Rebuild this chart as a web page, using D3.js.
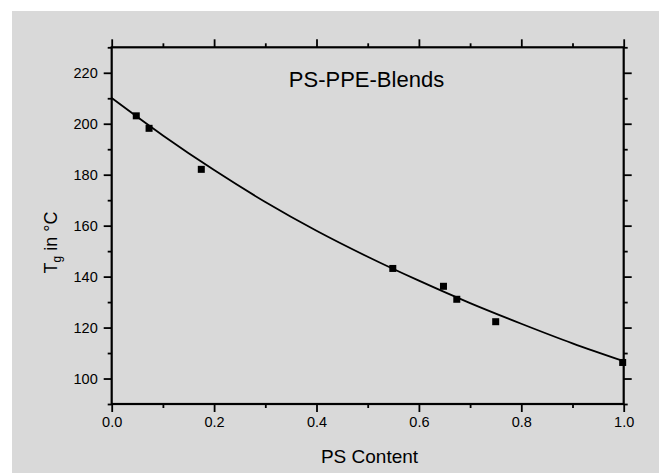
<!DOCTYPE html>
<html>
<head>
<meta charset="utf-8">
<script src="https://cdn.jsdelivr.net/npm/d3@7"></script>
<style>
  html, body { margin: 0; padding: 0; background: #ffffff; }
  svg { display: block; }
  text { font-family: "Liberation Sans", Arial, Helvetica, sans-serif; fill: #000; }
</style>
</head>
<body>
<svg id="chart" width="665" height="473"></svg>
<script>
// ---- data ----
const psContent = [0.048, 0.073, 0.175, 0.549, 0.648, 0.674, 0.750, 0.998];
const tgValues  = [203.1, 198.2, 182.1, 143.2, 136.2, 131.1, 122.3, 106.3];

// fitted curve
const fitX = [0.0, 0.1, 0.2, 0.3, 0.4, 0.5, 0.6, 0.7, 0.8, 0.9, 1.0];
const fitY = [210.1, 195.4, 181.8, 169.3, 158.0, 147.8, 138.4, 129.6, 121.5, 113.8, 106.8];

const xMajorTicks = [0.0, 0.2, 0.4, 0.6, 0.8, 1.0];
const xMinorTicks = [0.1, 0.3, 0.5, 0.7, 0.9];
const yMajorTicks = [100, 120, 140, 160, 180, 200, 220];
const yMinorTicks = [90, 110, 130, 150, 170, 190, 210, 230];

const titleText = "PS-PPE-Blends";
const xTitle = "PS Content";

// ---- layout ----
const svg = d3.select("#chart");
const L = 111.7, R = 623.7, T = 47.3, B = 404;

const x = d3.scaleLinear().domain([0, 1]).range([L, R]);
const y = d3.scaleLinear().domain([90, 230]).range([B, T]);

// background panel
svg.append("rect").attr("x", 12).attr("y", 11).attr("width", 647).attr("height", 462)
  .attr("fill", "#d9d9d9");

const fmtX = d3.format(".1f");

function styleAxis(g) {
  g.select(".domain").remove();
  g.selectAll(".tick line").attr("stroke", "#000").attr("stroke-width", 1.8);
  g.selectAll(".tick text").attr("font-size", "14.5px").attr("fill", "#000")
    .attr("font-family", "\"Liberation Sans\", Arial, sans-serif");
}

// bottom axis
svg.append("g").attr("transform", `translate(0,${B})`)
  .call(d3.axisBottom(x).tickValues(xMajorTicks).tickFormat(fmtX).tickSize(8).tickPadding(5))
  .call(styleAxis);
svg.append("g").attr("transform", `translate(0,${B})`)
  .call(d3.axisBottom(x).tickValues(xMinorTicks).tickFormat("").tickSize(4))
  .call(styleAxis);
// top axis
svg.append("g").attr("transform", `translate(0,${T})`)
  .call(d3.axisTop(x).tickValues(xMajorTicks).tickFormat("").tickSize(8))
  .call(styleAxis);
svg.append("g").attr("transform", `translate(0,${T})`)
  .call(d3.axisTop(x).tickValues(xMinorTicks).tickFormat("").tickSize(4))
  .call(styleAxis);
// left axis
svg.append("g").attr("transform", `translate(${L},0)`)
  .call(d3.axisLeft(y).tickValues(yMajorTicks).tickFormat(d3.format("d")).tickSize(8).tickPadding(6))
  .call(styleAxis);
svg.append("g").attr("transform", `translate(${L},0)`)
  .call(d3.axisLeft(y).tickValues(yMinorTicks).tickFormat("").tickSize(4))
  .call(styleAxis);
// right axis
svg.append("g").attr("transform", `translate(${R},0)`)
  .call(d3.axisRight(y).tickValues(yMajorTicks).tickFormat("").tickSize(8))
  .call(styleAxis);
svg.append("g").attr("transform", `translate(${R},0)`)
  .call(d3.axisRight(y).tickValues(yMinorTicks).tickFormat("").tickSize(4))
  .call(styleAxis);

// frame
svg.append("rect").attr("x", L).attr("y", T).attr("width", R - L).attr("height", B - T)
  .attr("fill", "none").attr("stroke", "#000").attr("stroke-width", 2.2);

// fitted curve
const line = d3.line().x((d, i) => x(fitX[i])).y(d => y(d)).curve(d3.curveMonotoneX);
svg.append("path").attr("d", line(fitY))
  .attr("fill", "none").attr("stroke", "#000").attr("stroke-width", 1.8);

// data points
const sz = 7;
svg.append("g").selectAll("rect").data(tgValues).join("rect")
  .attr("x", (d, i) => x(psContent[i]) - sz / 2)
  .attr("y", d => y(d) - sz / 2)
  .attr("width", sz).attr("height", sz)
  .attr("fill", "#000");

// title
svg.append("text").attr("x", 366.5).attr("y", 86.5).attr("text-anchor", "middle")
  .attr("font-size", "22px").text(titleText);

// x axis title
svg.append("text").attr("x", 369.5).attr("y", 463).attr("text-anchor", "middle")
  .attr("font-size", "19px").text(xTitle);

// y axis title
const yt = svg.append("text").attr("transform", "translate(57,242.5) rotate(-90)")
  .attr("text-anchor", "middle").attr("font-size", "18px");
yt.append("tspan").text("T");
yt.append("tspan").attr("font-size", "12px").attr("dy", "4").text("g");
yt.append("tspan").attr("dy", "-4").text(" in °C");
</script>
</body>
</html>
